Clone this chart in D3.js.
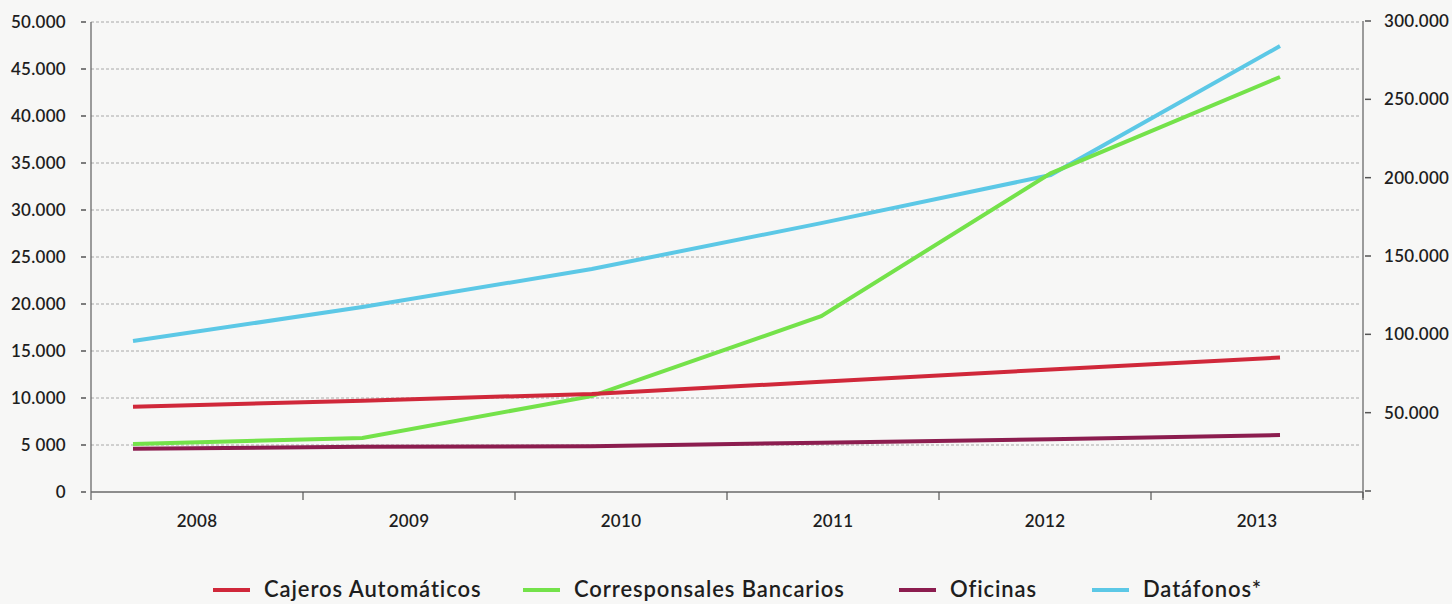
<!DOCTYPE html>
<html>
<head>
<meta charset="utf-8">
<script src="https://cdn.jsdelivr.net/npm/d3@7"></script>
<style>
  html, body { margin: 0; padding: 0; background: #f7f7f6; }
  svg { display: block; }
  text { font-family: Lato, "Open Sans", sans-serif; fill: #1e1e1e; }
</style>
</head>
<body>
<svg id="chart" width="1452" height="604"></svg>
<script>
// Years on the horizontal axis
const years = ["2008", "2009", "2010", "2011", "2012", "2013"];

// Series on the left axis
const cajeros = [9070, 9710, 10430, 11730, 13030, 14300];
const corresponsales = [5100, 5750, 10200, 18700, 33900, 44150];
const oficinas = [4600, 4820, 4860, 5250, 5600, 6060];

// Series on the right axis
const datafonos = [95700, 117400, 141700, 171000, 201700, 284000];

// Axis ticks and labels
const leftTicks = [0, 5000, 10000, 15000, 20000, 25000, 30000, 35000, 40000, 45000, 50000];
const leftLabels = ["0", "5 000", "10.000", "15.000", "20.000", "25.000", "30.000", "35.000", "40.000", "45.000", "50.000"];
const rightTicks = [0, 50000, 100000, 150000, 200000, 250000, 300000];
const rightLabels = ["", "50.000", "100.000", "150.000", "200.000", "250.000", "300.000"];

const seriesNames = ["Cajeros Automáticos", "Corresponsales Bancarios", "Oficinas", "Datáfonos*"];
const seriesColors = ["#d0283a", "#74e24a", "#8c1d4f", "#5cc8e6"];

const svg = d3.select("#chart");

const left = 91, right = 1363;
const xBand = d3.scaleBand().domain(years).range([left, right]);
const xPoint = d3.scalePoint().domain(years).range([133, 1280]);
const yLeft = d3.scaleLinear().domain([0, 50000]).range([492, 22]);
const yRight = d3.scaleLinear().domain([0, 300000]).range([491, 21]);

// Dashed horizontal gridlines
svg.append("g")
  .selectAll("line")
  .data(leftTicks.filter(d => d > 0))
  .join("line")
  .attr("x1", left).attr("x2", right - 2)
  .attr("y1", d => yLeft(d)).attr("y2", d => yLeft(d))
  .attr("stroke", "#a8a8a8")
  .attr("stroke-width", 1)
  .attr("stroke-dasharray", "3,2");

// Left axis
const gL = svg.append("g");
gL.append("line")
  .attr("x1", left).attr("x2", left)
  .attr("y1", yLeft(50000)).attr("y2", 500)
  .attr("stroke", "#6a6a6a").attr("stroke-width", 1.3);
gL.selectAll("line.tick")
  .data(leftTicks)
  .join("line")
  .attr("class", "tick")
  .attr("x1", left - 10).attr("x2", left - 5)
  .attr("y1", d => yLeft(d)).attr("y2", d => yLeft(d))
  .attr("stroke", "#555").attr("stroke-width", 1.5);
gL.selectAll("text")
  .data(leftTicks)
  .join("text")
  .attr("x", 66)
  .attr("y", d => yLeft(d))
  .attr("dy", "0.36em")
  .attr("text-anchor", "end")
  .attr("font-size", 17)
  .attr("font-weight", 600)
  .attr("letter-spacing", 0.3)
  .text((d, i) => leftLabels[i]);

// Right axis
const gR = svg.append("g");
gR.append("line")
  .attr("x1", right).attr("x2", right)
  .attr("y1", yRight(300000)).attr("y2", 498)
  .attr("stroke", "#6a6a6a").attr("stroke-width", 1.3);
gR.selectAll("line.tick")
  .data(rightTicks)
  .join("line")
  .attr("class", "tick")
  .attr("x1", right + 2).attr("x2", right + 8)
  .attr("y1", d => yRight(d)).attr("y2", d => yRight(d))
  .attr("stroke", "#555").attr("stroke-width", 1.5);
gR.selectAll("text")
  .data(rightTicks)
  .join("text")
  .attr("x", 1384)
  .attr("y", d => yRight(d))
  .attr("dy", "0.36em")
  .attr("text-anchor", "start")
  .attr("font-size", 17)
  .attr("font-weight", 600)
  .attr("letter-spacing", 0.3)
  .text((d, i) => rightLabels[i]);

// Bottom axis
const gB = svg.append("g");
gB.append("line")
  .attr("x1", left).attr("x2", right)
  .attr("y1", yLeft(0)).attr("y2", yLeft(0))
  .attr("stroke", "#6a6a6a").attr("stroke-width", 1.6);
const bounds = years.map(y => xBand(y)).concat([right]);
gB.selectAll("line.tick")
  .data(bounds.slice(1))
  .join("line")
  .attr("class", "tick")
  .attr("x1", d => d).attr("x2", d => d)
  .attr("y1", yLeft(0)).attr("y2", yLeft(0) + 8)
  .attr("stroke", "#555").attr("stroke-width", 1.2);
gB.selectAll("text")
  .data(years)
  .join("text")
  .attr("x", d => xBand(d) + xBand.bandwidth() / 2)
  .attr("y", 527)
  .attr("text-anchor", "middle")
  .attr("font-size", 17)
  .attr("font-weight", 600)
  .attr("letter-spacing", 0.3)
  .text(d => d);

// Lines
const lineLeft = d3.line().x((d, i) => xPoint(years[i])).y(d => yLeft(d));
const lineRight = d3.line().x((d, i) => xPoint(years[i])).y(d => yRight(d));

const plot = svg.append("g").attr("fill", "none").attr("stroke-width", 4);
plot.append("path").attr("d", lineRight(datafonos)).attr("stroke", seriesColors[3]);
plot.append("path").attr("d", lineLeft(corresponsales)).attr("stroke", seriesColors[1]);
plot.append("path").attr("d", lineLeft(cajeros)).attr("stroke", seriesColors[0]);
plot.append("path").attr("d", lineLeft(oficinas)).attr("stroke", seriesColors[2]);

// Legend
const legendX = [213, 523, 899, 1092];
const lg = svg.append("g");
seriesNames.forEach((name, i) => {
  lg.append("line")
    .attr("x1", legendX[i]).attr("x2", legendX[i] + 37)
    .attr("y1", 590).attr("y2", 590)
    .attr("stroke", seriesColors[i]).attr("stroke-width", 4);
  lg.append("text")
    .attr("x", legendX[i] + 51)
    .attr("y", 597)
    .attr("font-size", 22)
    .attr("font-weight", 600)
    .attr("letter-spacing", 0.9)
    .text(name);
});
</script>
</body>
</html>
